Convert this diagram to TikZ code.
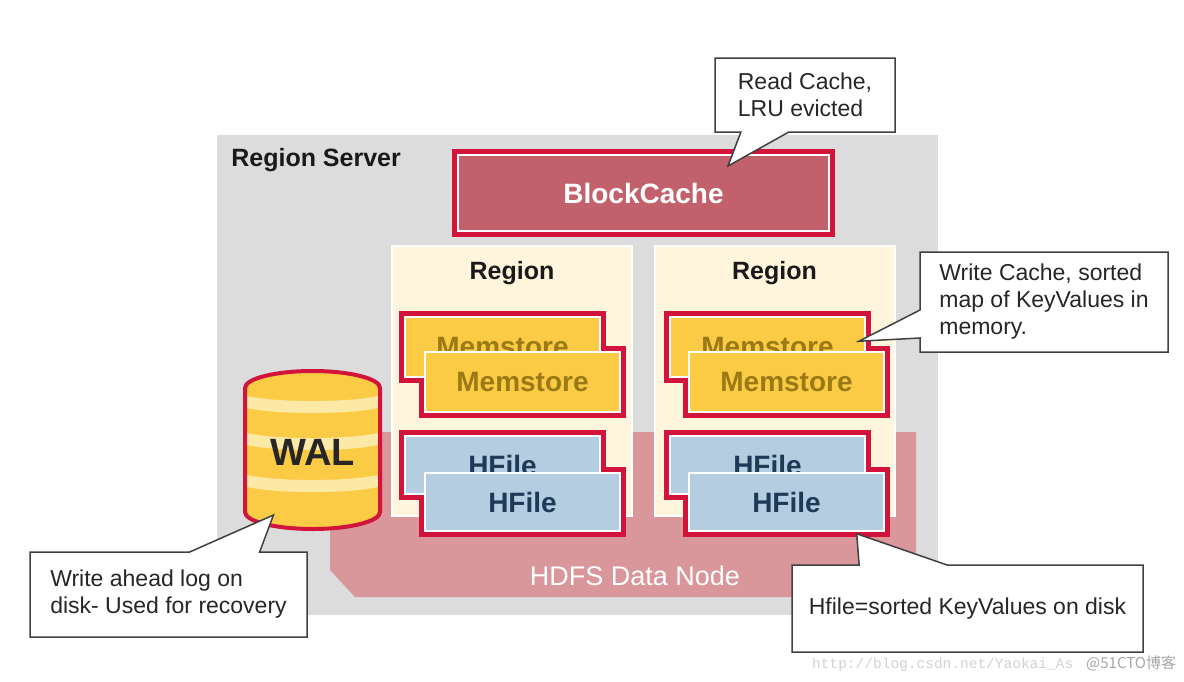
\documentclass[tikz,border=0pt]{standalone}
\usepackage{fontspec}
\setmainfont{Liberation Sans}
\newfontfamily\cjkfont{Noto Sans CJK SC}
\newfontfamily\wmmono{Liberation Mono}
\usetikzlibrary{positioning, shapes.callouts}
\pgfdeclarelayer{back}
\pgfdeclarelayer{ring}
\pgfsetlayers{back,ring,main}

\definecolor{rsgray}{HTML}{DCDCDC}
\definecolor{hbred}{HTML}{D2143C}
\definecolor{bcfill}{HTML}{C2606B}
\definecolor{hdfspink}{HTML}{D9969B}
\definecolor{regcream}{HTML}{FFF5DC}
\definecolor{memyellow}{HTML}{FCCB45}
\definecolor{memtext}{HTML}{9A7A14}
\definecolor{hfblue}{HTML}{B4CDE0}
\definecolor{hftext}{HTML}{1E3A56}
\definecolor{walstripe}{HTML}{FDE9A6}
\definecolor{notegray}{HTML}{404040}

\begin{document}
\begin{tikzpicture}[x=1pt, y=-1pt]
	\tikzset{
		rs/.style={fill=rsgray, minimum width=721pt, minimum height=480pt, inner sep=0pt},
		region/.style={fill=regcream, draw=white, line width=2pt, minimum width=240pt, minimum height=270pt, inner sep=0pt},
		boldlbl/.style={font=\bfseries\fontsize{25}{30}\selectfont, text=black!90},
		blockcache/.style={fill=bcfill, draw=white, line width=2pt, minimum width=371pt, minimum height=76pt, text=white, font=\bfseries\fontsize{28}{32}\selectfont},
		memstore/.style={fill=memyellow, draw=white, line width=1.5pt, minimum width=195pt, minimum height=60pt, inner sep=0pt, text=memtext, font=\bfseries\fontsize{28}{32}\selectfont},
		hfile/.style={memstore, fill=hfblue, text=hftext, minimum height=58pt},
		ring/.style={draw=hbred, line width=10pt},
		walbody/.style={fill=memyellow, draw=hbred, line width=4pt, path picture={
			\foreach \s in {392,429,471}
				\fill[walstripe] (240,\s) arc[start angle=180, end angle=0, x radius=72.5, y radius=9] -- (385,\s+12) arc[start angle=0, end angle=180, x radius=72.5, y radius=9] -- cycle;
		}},
		note/.style={rectangle callout, fill=white, draw=notegray, line width=1.5pt, align=left, inner sep=0pt, text=black!85, font=\fontsize{23}{27}\selectfont}
	}
	\useasboundingbox (0,0) rectangle (1184,681);

	% server, data node and regions
	\begin{pgfonlayer}{back}
		\node[rs] (rs) at (577.5,375) {};
		\fill[hdfspink] (330,432) -- (916,432) -- (916,597) -- (355,597) -- (330,570) -- cycle;
		\node[region] (reg1) at (512,381) {};
		\node[region] (reg2) at (774.5,381) {};
	\end{pgfonlayer}

	\node[boldlbl, anchor=base west] (rsl) at ([xshift=11pt, yshift=-32pt]rs.north west) {Region Server};
	\node[font=\fontsize{27}{30}\selectfont, text=white] (hdfs) at (635,576) {HDFS Data Node};
	\node[boldlbl, anchor=base] (rl1) at ([yshift=-34pt]reg1.north) {Region};
	\node[boldlbl, anchor=base] (rl2) at ([yshift=-34pt]reg2.north) {Region};

	\node[blockcache] (bc) at (643.5,193) {BlockCache};

	% memstores and hfiles
	\node[memstore] (mb1) at (502.5,347) {Memstore};
	\node[memstore] (mf1) at ([xshift=20pt, yshift=-35pt]mb1.center) {Memstore};
	\node[memstore] (mb2) at (767.5,347) {Memstore};
	\node[memstore] (mf2) at ([xshift=19pt, yshift=-35pt]mb2.center) {Memstore};
	\node[hfile] (hb1) at (502.5,465) {HFile};
	\node[hfile] (hf1) at ([xshift=20pt, yshift=-37pt]hb1.center) {HFile};
	\node[hfile] (hb2) at (767.5,465) {HFile};
	\node[hfile] (hf2) at ([xshift=19pt, yshift=-37pt]hb2.center) {HFile};

	\begin{pgfonlayer}{ring}
		\foreach \n in {bc,mb1,mf1,mb2,mf2,hb1,hf1,hb2,hf2}
			\draw[ring] (\n.north west) rectangle (\n.south east);
	\end{pgfonlayer}

	% WAL
	\draw[walbody] (245,388) -- (245,512) arc[start angle=180, end angle=0, x radius=67.5, y radius=17] -- (380,388) arc[start angle=0, end angle=-180, x radius=67.5, y radius=17] -- cycle;
	\node[font=\bfseries\fontsize{38}{40}\selectfont, text=black!85] (wal) at (312.5,452) {WAL};

	% notes
	\node[note, minimum width=180pt, minimum height=74pt, callout pointer width=48pt,
		callout absolute pointer={([xshift=84.5pt, yshift=-12pt]bc.north)}] (readnote) at (805,95) {Read Cache,\\LRU evicted};
	\node[note, minimum width=248pt, minimum height=100pt, callout pointer width=28pt,
		callout absolute pointer={([xshift=-7pt, yshift=-25pt]mb2.north east)}] (writenote) at (1044,302) {Write Cache, sorted\\map of KeyValues in\\memory.};
	\node[note, minimum width=277pt, minimum height=85pt, callout pointer width=70pt,
		callout absolute pointer={([xshift=-39pt, yshift=-63pt]wal.center)}] (walnote) at (168.5,594.5) {Write ahead log on\\disk- Used for recovery};
	\node[note, minimum width=351pt, minimum height=87pt, callout pointer width=88pt,
		callout absolute pointer={([xshift=-28pt, yshift=-2pt]hf2.south east)}] (hfnote) at (967.5,608.5) {Hfile=sorted KeyValues on disk};

	\node[anchor=base west, inner sep=0pt, text=black!18, font=\wmmono\fontsize{14.5}{15}\selectfont] (wm1) at (812,668) {http://blog.csdn.net/Yaokai\_As};
	\node[anchor=base west, inner sep=0pt, text=black!35, font=\cjkfont\fontsize{15}{15}\selectfont] (wm2) at (1086,668) {@51CTO博客};
\end{tikzpicture}
\end{document}
